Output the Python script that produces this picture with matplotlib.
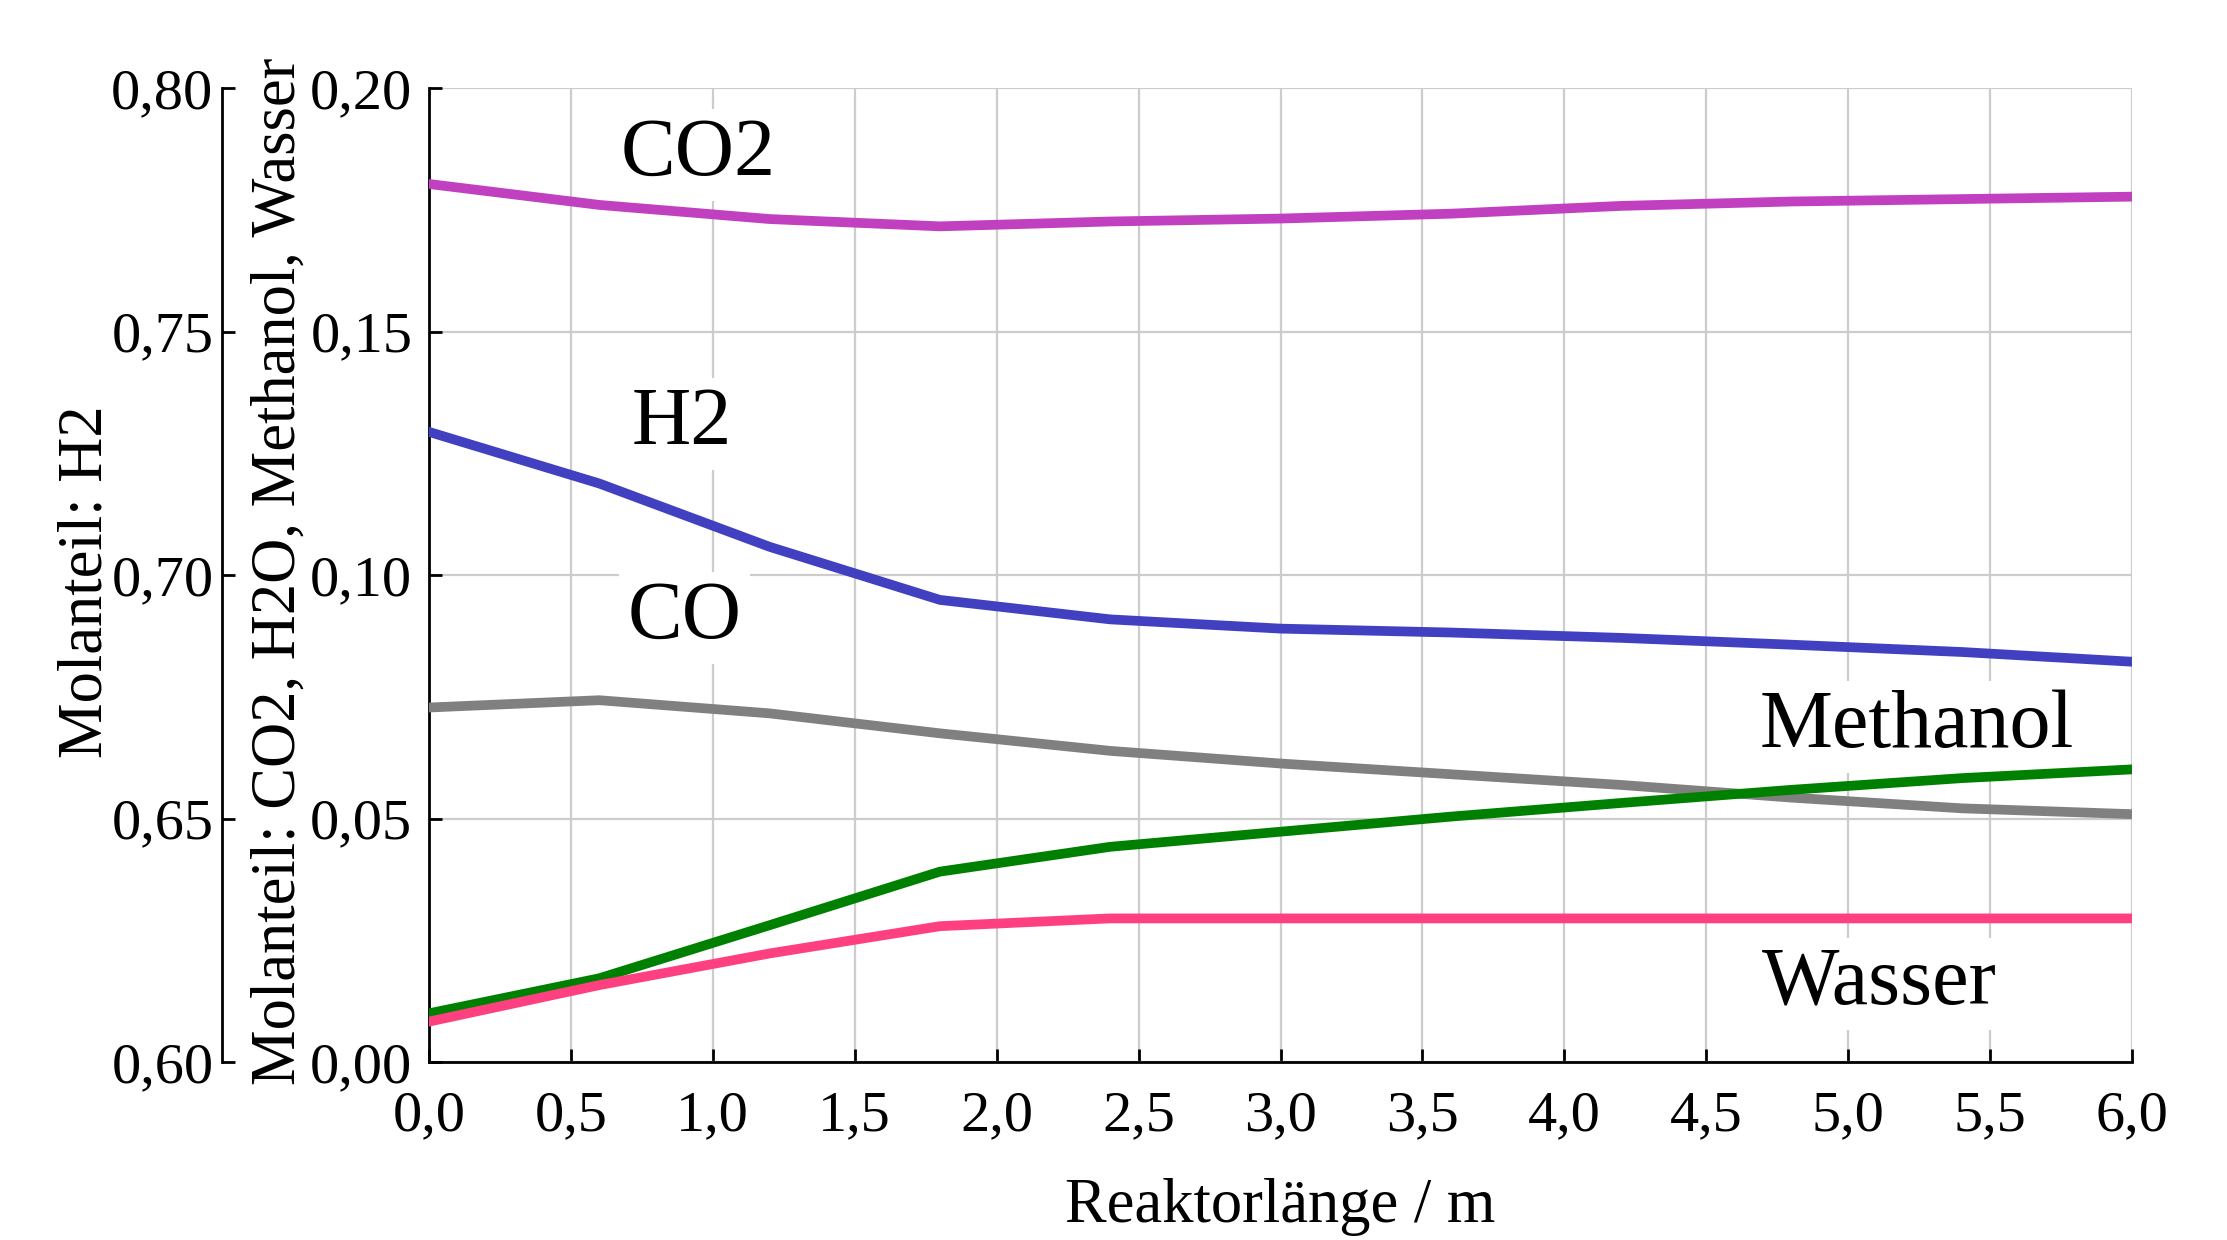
import matplotlib
matplotlib.use("Agg")
import matplotlib.pyplot as plt
from matplotlib.ticker import FuncFormatter, MultipleLocator

plt.rcParams['font.family'] = ['Liberation Serif', 'DejaVu Serif']

# Reaktorlänge in m
laenge = [0.0, 0.6, 1.2, 1.8, 2.4, 3.0, 3.6, 4.2, 4.8, 5.4, 6.0]

# Molanteile (inner axis)
co2 = [0.1803, 0.1760, 0.1731, 0.1716, 0.1726, 0.1732, 0.1742, 0.1758, 0.1767, 0.1772, 0.1777]
co = [0.0728, 0.0743, 0.0716, 0.0675, 0.0639, 0.0613, 0.0591, 0.0569, 0.0543, 0.0521, 0.0509]
methanol = [0.0100, 0.0172, 0.0281, 0.0391, 0.0442, 0.0473, 0.0504, 0.0532, 0.0559, 0.0583, 0.0601]
wasser = [0.0083, 0.0158, 0.0223, 0.0279, 0.0295, 0.0295, 0.0295, 0.0295, 0.0295, 0.0295, 0.0295]
# Molanteil H2 (outer axis)
h2 = [0.7294, 0.7188, 0.7058, 0.6949, 0.6909, 0.6890, 0.6882, 0.6871, 0.6857, 0.6842, 0.6822]

# labels on the curves: (text, x, y on inner axis)
curve_labels = [("CO2", 0.95, 0.1862), ("H2", 0.89, 0.1310), ("CO", 0.90, 0.0912),
                ("Methanol", 5.24, 0.0688), ("Wasser", 5.11, 0.0160)]

comma = FuncFormatter(lambda v, p: ("%.2f" % v).replace(".", ","))
comma1 = FuncFormatter(lambda v, p: ("%.1f" % v).replace(".", ","))

fig = plt.figure(figsize=(22.27, 12.40), dpi=100)
ax = fig.add_axes([0.1926, 0.1435, 0.7648, 0.7855])
ax2 = ax.twinx()

lw = 7
ax.plot(laenge, co2, color='#c040c0', lw=lw, zorder=3)
ax.plot(laenge, co, color='#808080', lw=lw, zorder=3)
ax.plot(laenge, methanol, color='#008000', lw=lw, zorder=3)
ax.plot(laenge, wasser, color='#ff4080', lw=lw, zorder=3)
ax2.plot(laenge, h2, color='#4040c0', lw=lw, zorder=3)

ax.set_xlim(0, 6)
ax.set_ylim(0, 0.20)
ax2.set_ylim(0.60, 0.80)
ax.xaxis.set_major_locator(MultipleLocator(0.5))
ax.yaxis.set_major_locator(MultipleLocator(0.05))
ax2.yaxis.set_major_locator(MultipleLocator(0.05))
ax.xaxis.set_major_formatter(comma1)
ax.yaxis.set_major_formatter(comma)
ax2.yaxis.set_major_formatter(comma)

ax.grid(True, color='#cccccc', lw=1.6, zorder=0)
ax.set_axisbelow(True)

for s in ['top', 'right']:
    ax.spines[s].set_visible(False)
for s in ['left', 'bottom']:
    ax.spines[s].set_linewidth(2)

ax2.spines['right'].set_visible(False)
ax2.spines['top'].set_visible(False)
ax2.spines['bottom'].set_visible(False)
ax2.spines['left'].set_visible(True)
ax2.spines['left'].set_position(('axes', -0.1216))
ax2.spines['left'].set_linewidth(2)
ax2.yaxis.set_ticks_position('left')
ax2.yaxis.set_label_position('left')

ax.tick_params(axis='y', direction='in', length=9.5, width=2, pad=12, labelsize=42)
ax.tick_params(axis='x', direction='in', length=9.5, width=2, pad=20, labelsize=42)
ax2.tick_params(axis='y', direction='in', length=9.5, width=2, pad=6, labelsize=42)

ax.set_xlabel("Reaktorlänge / m", fontsize=45, va='baseline')
ax.xaxis.set_label_coords(0.5, -0.1643)
ax.set_ylabel("Molanteil: CO2, H2O, Methanol, Wasser", fontsize=45, va='baseline')
ax.yaxis.set_label_coords(-0.0787, 0.504)
ax2.set_ylabel("Molanteil: H2", fontsize=45, va='baseline')
ax2.yaxis.set_label_coords(-0.192, 0.493)

for txt, x, y in curve_labels:
    ax.text(x, y, txt, fontsize=59, ha='center', va='center', zorder=2,
            bbox=dict(boxstyle='square,pad=0.1', fc='white', ec='none'))

fig.savefig("out.png", dpi=100)
